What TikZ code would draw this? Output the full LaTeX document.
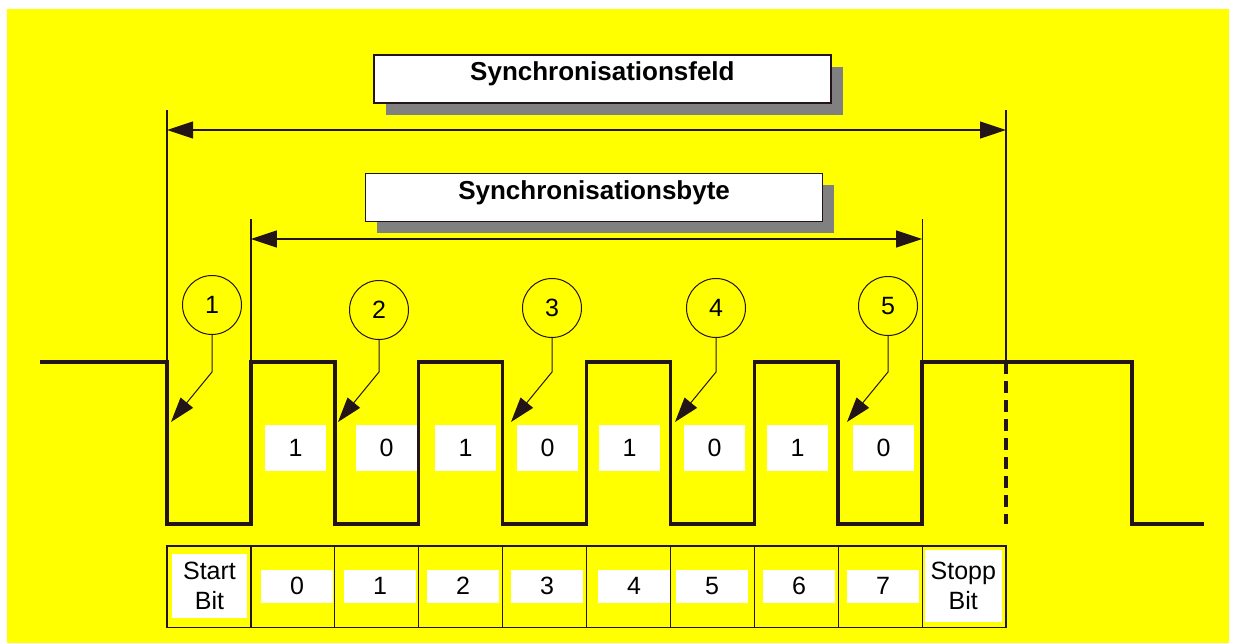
\documentclass[tikz,border=0pt]{standalone}
\usepackage{fontspec}
\setmainfont{Liberation Sans}
\usetikzlibrary{arrows.meta}
\definecolor{ink}{RGB}{35,20,24}
\definecolor{bgyellow}{RGB}{255,255,0}
\definecolor{shade}{RGB}{128,128,128}
\tikzset{
  guide/.style={draw=ink, line width=1.2pt},
  wave/.style={draw=ink, line width=3.5pt, line join=miter},
  tipshape/.tip={Triangle[length=26pt,width=17pt]},
  dimarrow/.style={draw=ink, line width=1.2pt, tipshape-tipshape},
  callline/.style={draw=ink, line width=1pt, -{Triangle[length=25pt,width=16pt]}},
  callout/.style={circle, draw=ink, line width=1pt, minimum size=59pt, inner sep=0pt,
    font=\fontsize{25}{30}\selectfont},
  titlebox/.style={fill=white, draw=ink, line width=1.2pt, minimum width=457pt,
    minimum height=48pt, inner sep=0pt, anchor=north west, text height=26pt, text depth=22pt,
    font=\fontsize{26}{30}\selectfont\bfseries},
  shadowbox/.style={fill=shade, minimum width=457pt, minimum height=48pt, inner sep=0pt,
    anchor=north west},
  bitbox/.style={fill=white, minimum width=61pt, minimum height=46pt, inner sep=0pt,
    font=\fontsize{25}{30}\selectfont},
  cellbox/.style={fill=white, minimum width=72pt, minimum height=33pt, inner sep=0pt,
    font=\fontsize{25}{30}\selectfont},
  endbox/.style={fill=white, inner sep=0pt, align=center,
    font=\fontsize{25}{30}\selectfont},
}
\begin{document}
\begin{tikzpicture}[x=1pt, y=-1pt]
  \useasboundingbox (0,0) rectangle (1236,643);
  % page and yellow field
  \fill[white] (0,0) rectangle (1236,643);
  \fill[bgyellow] (7,9) rectangle (1229,643);

  % bit boundaries
  \foreach \i/\x in {0/167, 1/250.9, 2/334.8, 3/418.7, 4/502.6, 5/586.5,
                     6/670.4, 7/754.3, 8/838.2, 9/922.1, 10/1006}
    \coordinate (b\i) at (\x,0);

  % title boxes with drop shadows
  \node[shadowbox] (feldsh) at (385.3,66.3) {};
  \node[titlebox] (feld) at (373.3,54.3) {Synchronisationsfeld};
  \node[shadowbox] (bytesh) at (377,185) {};
  \node[titlebox] (byte) at (365,173) {Synchronisationsbyte};

  % extension lines
  \coordinate (f1) at (167,110);   \coordinate (f2) at (167,362);
  \coordinate (f3) at (1006,110);  \coordinate (f4) at (1006,362);
  \coordinate (s1) at (250.9,219); \coordinate (s2) at (250.9,362);
  \coordinate (s3) at (922.1,219); \coordinate (s4) at (922.1,362);
  \draw[guide] (f1) -- (f2);
  \draw[guide] (f3) -- (f4);
  \draw[guide] (s1) -- (s2);
  \draw[guide] (s3) -- (s4);

  % dimension arrows
  \coordinate (fa) at (167,130);   \coordinate (fb) at (1006,130);
  \coordinate (sa) at (250.9,239); \coordinate (sb) at (922.1,239);
  \draw[dimarrow] (fa) -- (fb);
  \draw[dimarrow] (sa) -- (sb);

  % signal waveform
  \draw[wave] (40,362) -- (167,362) -- (167,524) -- (250.9,524) -- (250.9,362)
    -- (334.8,362) -- (334.8,524) -- (418.7,524) -- (418.7,362)
    -- (502.6,362) -- (502.6,524) -- (586.5,524) -- (586.5,362)
    -- (670.4,362) -- (670.4,524) -- (754.3,524) -- (754.3,362)
    -- (838.2,362) -- (838.2,524) -- (922.1,524) -- (922.1,362)
    -- (1132,362) -- (1132,524) -- (1204,524);
  \draw[wave, dash pattern=on 12pt off 7pt] (1006,362) -- (1006,524);

  % bit values
  \foreach \n/\x/\v in {1/295.5/1, 2/386.5/0, 3/465.5/1, 4/547.5/0,
                        5/629.5/1, 6/714.5/0, 7/797.5/1, 8/883.5/0}
    \node[bitbox] (v\n) at (\x,448) {\v};

  % numbered callouts pointing at the falling edges
  \foreach \n/\x/\y in {1/212/305, 2/379/310, 3/552/308, 4/716/308, 5/888/306} {
    \node[callout] (c\n) at (\x,\y) {\n};
    \coordinate (k\n) at (\x,372);
    \coordinate (t\n) at (\x-41,422);
    \draw[callline] (c\n.south) -- (k\n) -- (t\n);
  }

  % bit table
  \draw[guide] (167,546) rectangle (1006,627.3);
  \foreach \x in {250.9, 334.8, 418.7, 502.6, 586.5, 670.4, 754.3, 838.2, 922.1}
    \draw[guide] (\x,546) -- (\x,627.3);
  \node[endbox, minimum width=75pt, minimum height=64pt] (start) at (209.5,586.2) {Start\\Bit};
  \node[endbox, minimum width=77pt, minimum height=72pt] (stopp) at (963.3,585.8) {Stopp\\Bit};
  \foreach \n/\x in {0/297, 1/380, 2/463, 3/547, 4/634, 5/712, 6/799, 7/883}
    \node[cellbox] (d\n) at (\x,586) {\n};
\end{tikzpicture}
\end{document}
